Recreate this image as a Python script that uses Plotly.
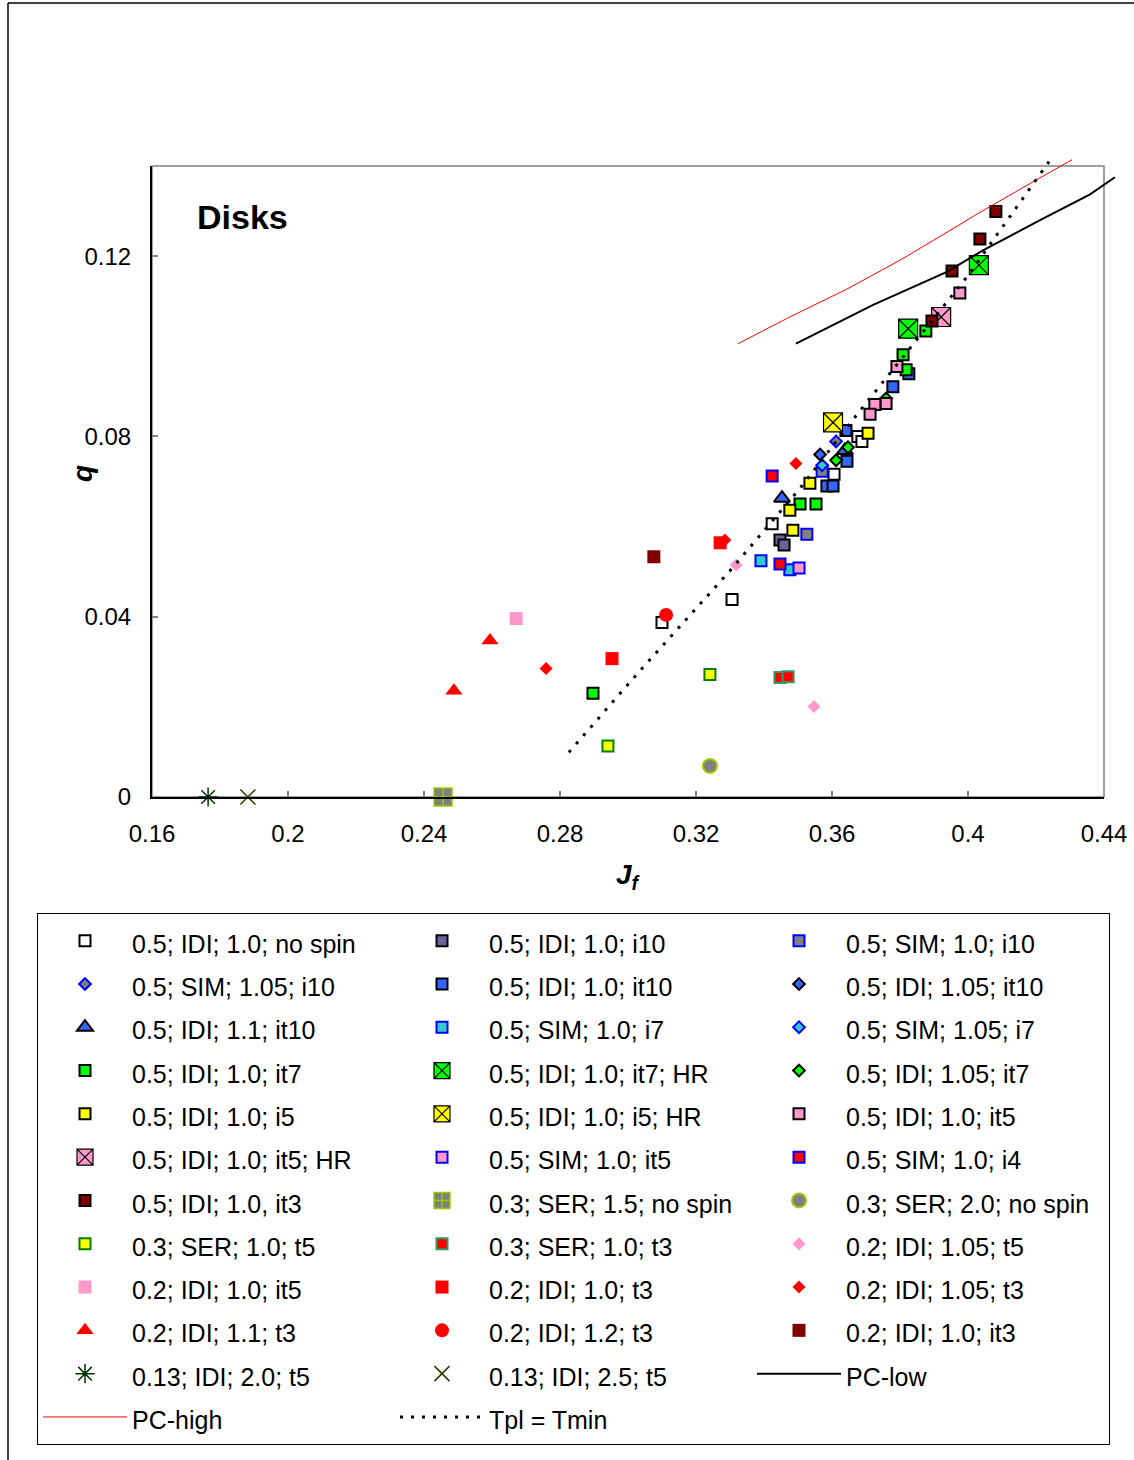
import plotly.graph_objects as go

W, H = 1134, 1460
FONT = "Liberation Sans, Arial, sans-serif"

# ---------------- data (J_f, q) ----------------
nospin_x = [0.3100, 0.3306, 0.3424, 0.3606, 0.3676, 0.3688]
nospin_y = [0.0387, 0.0438, 0.0606, 0.0716, 0.0800, 0.0789]
idi_i10_x = [0.3447, 0.3459]
idi_i10_y = [0.0570, 0.0559]
sim_i10_x = [0.3526, 0.3571]
sim_i10_y = [0.0583, 0.0723]
sim105_i10_x = [0.3612]
sim105_i10_y = [0.0789]
idi_it10_x = [0.3585, 0.3603, 0.3644, 0.3641, 0.3779, 0.3826]
idi_it10_y = [0.0690, 0.0690, 0.0745, 0.0813, 0.0910, 0.0939]
idi105_it10_x = [0.3565]
idi105_it10_y = [0.0760]
idi11_it10_x = [0.3453, 0.3638]
idi11_it10_y = [0.0663, 0.0769]
sim_i7_x = [0.3391, 0.3476]
sim_i7_y = [0.0524, 0.0504]
sim105_i7_x = [0.3571]
sim105_i7_y = [0.0736]
idi_it7_x = [0.2897, 0.3506, 0.3553, 0.3809, 0.3818, 0.3876]
idi_it7_y = [0.0230, 0.0650, 0.0650, 0.0981, 0.0948, 0.1034]
idi_it7hr_x = [0.3824, 0.4032]
idi_it7hr_y = [0.1039, 0.1180]
idi105_it7_x = [0.3647, 0.3612, 0.3759]
idi105_it7_y = [0.0776, 0.0747, 0.0884]
idi_i5_x = [0.3535, 0.3476, 0.3485, 0.3706]
idi_i5_y = [0.0696, 0.0636, 0.0592, 0.0807]
idi_i5hr_x = [0.3603]
idi_i5hr_y = [0.0831]
idi_it5_x = [0.3791, 0.3759, 0.3726, 0.3712, 0.3976]
idi_it5_y = [0.0955, 0.0873, 0.0871, 0.0849, 0.1118]
idi_it5hr_x = [0.3921]
idi_it5hr_y = [0.1065]
sim_it5_x = [0.3503]
sim_it5_y = [0.0508]
sim_i4_x = [0.3424, 0.3447]
sim_i4_y = [0.0712, 0.0517]
idi_it3_x = [0.4082, 0.4035, 0.3953, 0.3894]
idi_it3_y = [0.1299, 0.1238, 0.1167, 0.1056]
ser15_x = [0.2456]
ser15_y = [0.0]
ser20_x = [0.3241]
ser20_y = [0.0069]
ser_t5_x = [0.3241, 0.2941]
ser_t5_y = [0.0272, 0.0113]
ser_t3_x = [0.3447, 0.3471]
ser_t3_y = [0.0265, 0.0267]
p2_105_t5_x = [0.3547, 0.3318]
p2_105_t5_y = [0.0201, 0.0515]
p2_it5_x = [0.2671]
p2_it5_y = [0.0396]
p2_t3_x = [0.2953, 0.3271]
p2_t3_y = [0.0307, 0.0564]
p2_105_t3_x = [0.2759, 0.3285, 0.3494]
p2_105_t3_y = [0.0285, 0.0570, 0.0740]
p2_11_t3_x = [0.2594, 0.2488]
p2_11_t3_y = [0.0347, 0.0236]
p2_12_t3_x = [0.3112]
p2_12_t3_y = [0.0404]
p2_it3_x = [0.3076]
p2_it3_y = [0.0533]
p13_20_x = [0.1765]
p13_20_y = [0.0]
p13_25_x = [0.1882]
p13_25_y = [0.0]

pc_low_x = [0.3494, 0.3721, 0.3938, 0.4044, 0.4212, 0.4359, 0.4432]
pc_low_y = [0.1006, 0.1092, 0.1165, 0.1213, 0.1280, 0.1337, 0.1375]
pc_high_x = [0.3324, 0.3476, 0.3644, 0.3800, 0.3947, 0.4026, 0.4182, 0.4306]
pc_high_y = [0.1006, 0.1065, 0.1127, 0.1191, 0.1257, 0.1293, 0.1361, 0.1414]
tpl_x = [0.2826, 0.3015, 0.3300, 0.3506, 0.3676, 0.3838, 0.3997, 0.4132, 0.4247]
tpl_y = [0.0099, 0.0263, 0.0502, 0.0685, 0.0851, 0.1003, 0.1154, 0.1297, 0.1419]

x_ticks = [0.16, 0.2, 0.24, 0.28, 0.32, 0.36, 0.4, 0.44]
y_ticks = [0, 0.04, 0.08, 0.12]

# ---------------- styles ----------------
BLK = "black"
BLUE = "#0000FF"
series = [
    ("0.5; IDI; 1.0; no spin", nospin_x, nospin_y, "square", 11, "white", BLK, 2),
    ("0.5; IDI; 1.0; i10", idi_i10_x, idi_i10_y, "square", 11, "#666699", BLK, 2),
    ("0.5; SIM; 1.0; i10", sim_i10_x, sim_i10_y, "square", 11, "#808080", BLUE, 2),
    ("0.5; SIM; 1.05; i10", sim105_i10_x, sim105_i10_y, "diamond", 9, "#808080", BLUE, 2),
    ("0.5; IDI; 1.0; it10", idi_it10_x, idi_it10_y, "square", 11, "#3366FF", BLK, 2),
    ("0.5; IDI; 1.05; it10", idi105_it10_x, idi105_it10_y, "diamond", 9, "#3366FF", BLK, 2),
    ("0.5; IDI; 1.1; it10", idi11_it10_x, idi11_it10_y, "triangle-up", 14, "#3366FF", BLK, 2),
    ("0.5; SIM; 1.0; i7", sim_i7_x, sim_i7_y, "square", 11, "#33CCCC", BLUE, 2),
    ("0.5; SIM; 1.05; i7", sim105_i7_x, sim105_i7_y, "diamond", 9, "#33CCCC", BLUE, 2),
    ("0.5; IDI; 1.0; it7", idi_it7_x, idi_it7_y, "square", 11, "#00FF00", BLK, 2),
    ("0.5; IDI; 1.0; it7; HR", idi_it7hr_x, idi_it7hr_y, "square-x", 19, "#00FF00", BLK, 1.2),
    ("0.5; IDI; 1.05; it7", idi105_it7_x, idi105_it7_y, "diamond", 9, "#00FF00", BLK, 2),
    ("0.5; IDI; 1.0; i5", idi_i5_x, idi_i5_y, "square", 11, "#FFFF00", BLK, 2),
    ("0.5; IDI; 1.0; i5; HR", idi_i5hr_x, idi_i5hr_y, "square-x", 19, "#FFFF00", BLK, 1.2),
    ("0.5; IDI; 1.0; it5", idi_it5_x, idi_it5_y, "square", 11, "#FF99CC", BLK, 2),
    ("0.5; IDI; 1.0; it5; HR", idi_it5hr_x, idi_it5hr_y, "square-x", 19, "#FF99CC", BLK, 1.2),
    ("0.5; SIM; 1.0; it5", sim_it5_x, sim_it5_y, "square", 11, "#FF99CC", BLUE, 2),
    ("0.5; SIM; 1.0; i4", sim_i4_x, sim_i4_y, "square", 11, "#FF0000", BLUE, 2),
    ("0.5; IDI; 1.0, it3", idi_it3_x, idi_it3_y, "square", 11, "#800000", BLK, 2),
    ("0.3; SER; 1.5; no spin", ser15_x, ser15_y, "square-cross", 18, "#808080", "#99CC00", 1.5),
    ("0.3; SER; 2.0; no spin", ser20_x, ser20_y, "circle", 14, "#808080", "#99CC00", 2),
    ("0.3; SER; 1.0; t5", ser_t5_x, ser_t5_y, "square", 11, "#FFFF00", "#008000", 2),
    ("0.3; SER; 1.0; t3", ser_t3_x, ser_t3_y, "square", 11, "#FF0000", "#339966", 2),
    ("0.2; IDI; 1.05; t5", p2_105_t5_x, p2_105_t5_y, "diamond", 10, "#FF99CC", "#FF99CC", 0),
    ("0.2; IDI; 1.0; it5", p2_it5_x, p2_it5_y, "square", 13, "#FF99CC", "#FF99CC", 0),
    ("0.2; IDI; 1.0; t3", p2_t3_x, p2_t3_y, "square", 13, "#FF0000", "#FF0000", 0),
    ("0.2; IDI; 1.05; t3", p2_105_t3_x, p2_105_t3_y, "diamond", 10, "#FF0000", "#FF0000", 0),
    ("0.2; IDI; 1.1; t3", p2_11_t3_x, p2_11_t3_y, "triangle-up", 15, "#FF0000", "#FF0000", 0),
    ("0.2; IDI; 1.2; t3", p2_12_t3_x, p2_12_t3_y, "circle", 14, "#FF0000", "#FF0000", 0),
    ("0.2; IDI; 1.0; it3", p2_it3_x, p2_it3_y, "square", 13, "#800000", "#800000", 0),
    ("0.13; IDI; 2.0; t5", p13_20_x, p13_20_y, "asterisk-open", 16, "#003300", "#003300", 1.5),
    ("0.13; IDI; 2.5; t5", p13_25_x, p13_25_y, "x-thin-open", 15, "#333300", "#333300", 1.5),
]

def lname(s):
    return '<span style="font-size:25px">' + s + '</span>'

fig = go.Figure()
for name, xs, ys, sym, size, fill, lc, lw in series:
    fig.add_trace(go.Scatter(
        x=xs, y=ys, mode="markers", name=lname(name), cliponaxis=False,
        xaxis="x", yaxis="y",
        marker=dict(symbol=sym, size=size, color=fill,
                    line=dict(color=lc, width=lw)),
    ))

fig.add_trace(go.Scatter(x=pc_low_x, y=pc_low_y, mode="lines", name=lname("PC-low"),
                         xaxis="x2", yaxis="y2", line=dict(color="black", width=2)))
fig.add_trace(go.Scatter(x=pc_high_x, y=pc_high_y, mode="lines", name=lname("PC-high"),
                         xaxis="x2", yaxis="y2", line=dict(color="#FF0000", width=1)))
fig.add_trace(go.Scatter(x=tpl_x, y=tpl_y, mode="lines", name=lname("Tpl = Tmin"),
                         xaxis="x2", yaxis="y2",
                         line=dict(color="black", width=3, dash="3px,8px")))

# ---------------- geometry (pixels) ----------------
PX_L, PX_R, PX_T, PX_B = 152, 1104, 166, 797
x_lo, x_hi = 0.16, 0.44
y_lo, y_hi = 0.0, 0.14
sx = (PX_R - PX_L) / (x_hi - x_lo)
sy = (PX_B - PX_T) / (y_hi - y_lo)
EXT_R, EXT_T = 1134, 140

fig.update_layout(
    width=W, height=H, autosize=False,
    margin=dict(l=0, r=0, t=0, b=0, pad=0),
    paper_bgcolor="white", plot_bgcolor="rgba(0,0,0,0)",
    template="none",
    font=dict(family=FONT, color="black"),
    xaxis=dict(domain=[PX_L / W, PX_R / W], range=[x_lo, x_hi], anchor="y",
               tickvals=x_ticks, ticktext=[f"{v:g}" for v in x_ticks],
               ticks="inside", ticklen=6, tickcolor="#808080", tickwidth=1.5,
               showline=True, linecolor="black", linewidth=2,
               showgrid=False, zeroline=False, automargin=False,
               tickfont=dict(size=24, family=FONT, color="black"),
               ticklabelstandoff=14),
    yaxis=dict(domain=[1 - PX_B / H, 1 - PX_T / H], range=[y_lo, y_hi], anchor="x",
               tickvals=y_ticks, ticktext=[f"{v:g}" for v in y_ticks],
               ticks="inside", ticklen=6, tickcolor="#808080", tickwidth=1.5,
               showline=True, linecolor="black", linewidth=2,
               showgrid=False, zeroline=False, automargin=False,
               tickfont=dict(size=24, family=FONT, color="black"),
               ticklabelstandoff=14),
    xaxis2=dict(domain=[PX_L / W, EXT_R / W],
                range=[x_lo, x_lo + (EXT_R - PX_L) / sx], anchor="y2",
                visible=False, showgrid=False, zeroline=False),
    yaxis2=dict(domain=[1 - PX_B / H, 1 - EXT_T / H],
                range=[y_lo, y_lo + (PX_B - EXT_T) / sy], anchor="x2",
                visible=False, showgrid=False, zeroline=False),
    showlegend=True,
    legend=dict(orientation="h", x=37 / W, xanchor="left", y=1 - 913 / H, yanchor="top",
                bgcolor="white", bordercolor="black", borderwidth=1,
                font=dict(size=31, family=FONT, color="black"),
                itemwidth=84, entrywidth=258, entrywidthmode="pixels",
                itemsizing="trace", traceorder="normal"),
)

# plot-area frame (gray) and outer chart frame
fig.add_shape(type="rect", xref="x domain", yref="y domain", x0=0, x1=1, y0=0, y1=1,
              line=dict(color="#808080", width=1.5), layer="below")
fig.add_shape(type="line", xref="paper", yref="paper", x0=8 / W, x1=1, y0=1 - 3 / H, y1=1 - 3 / H,
              line=dict(color="black", width=1.5))
fig.add_shape(type="line", xref="paper", yref="paper", x0=8 / W, x1=8 / W, y0=0, y1=1 - 3 / H,
              line=dict(color="black", width=1.5))

# text
fig.add_annotation(xref="paper", yref="paper", x=195 / W, y=1 - 217 / H, xanchor="left",
                   yanchor="middle", showarrow=False, text="<b>Disks</b>",
                   font=dict(size=34, family=FONT, color="black"))
fig.add_annotation(xref="paper", yref="paper", x=82 / W, y=1 - 474 / H, xanchor="center",
                   yanchor="middle", showarrow=False, text="<b><i>q</i></b>", textangle=-90,
                   font=dict(size=28, family=FONT, color="black"))
fig.add_annotation(xref="paper", yref="paper", x=628 / W, y=1 - 876 / H, xanchor="center",
                   yanchor="middle", showarrow=False,
                   text="<b><i>J</i></b><sub><b><i>f</i></b></sub>",
                   font=dict(size=28, family=FONT, color="black"))

fig.write_html("out.html", config={"displayModeBar": False},
               post_script="document.body.style.margin='0px';")
